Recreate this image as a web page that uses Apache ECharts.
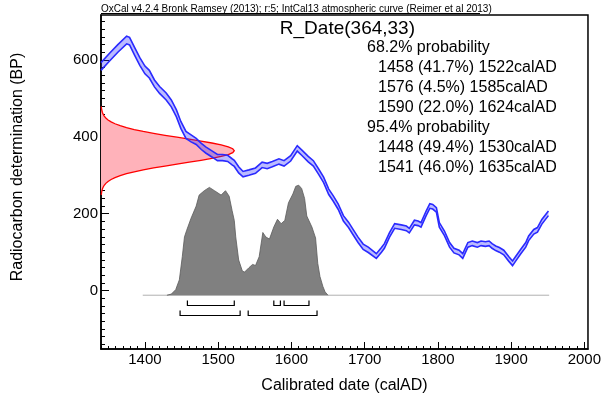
<!DOCTYPE html>
<html><head><meta charset="utf-8">
<script src="https://cdn.jsdelivr.net/npm/echarts@6/dist/echarts.min.js"></script>
<style>html,body{margin:0;padding:0;background:#fff}#c{width:604px;height:403px}</style>
</head><body><div id="c"></div>
<script>
// ---- data ----
const calYears = [1340,1352,1363,1375,1379,1386,1393,1400,1406,1413,1420,1429,1436,1443,1449,1456,1463,1470,1477,1483,1492,1499,1506,1513,1519,1522,1528,1534,1542,1551,1560,1567,1574,1583,1590,1599,1608,1614,1623,1630,1637,1644,1651,1657,1664,1671,1678,1684,1691,1698,1705,1716,1723,1727,1734,1741,1750,1757,1761,1768,1773,1777,1784,1789,1793,1798,1802,1809,1816,1822,1829,1834,1841,1847,1854,1859,1865,1870,1874,1879,1884,1890,1897,1902,1906,1913,1920,1924,1931,1936,1942,1951];
const calBP = [583,608,630,652,649,622,596,574,563,539,522,505,487,461,431,405,396,388,375,366,355,346,346,344,335,331,314,303,307,312,327,324,329,336,331,344,370,359,342,331,310,288,257,240,218,188,171,153,132,114,106,90,106,116,145,168,165,162,156,177,175,171,201,220,218,210,171,149,119,104,99,90,119,123,119,123,121,123,116,110,106,99,82,71,82,101,119,136,153,158,179,201];
const calErr = [10,10,10,10,10,10,10,10,10,9,9,9,9,9,9,9,9,8,8,8,8,8,8,8,8,8,8,7,7,7,7,7,7,7,7,7,7,7,7,7,7,7,7,7,7,7,7,7,7,7,7,6,6,6,6,6,6,6,6,6,6,6,6,6,6,6,6,6,6,6,6,6,6,6,6,6,6,6,6,6,6,6,6,6,6,6,6,6,6,6,6,6];

const grayYears = [1430,1436,1442,1447,1451,1454,1457,1463,1470,1474,1481,1488,1495,1504,1510,1515,1519,1522,1524,1528,1533,1536,1542,1547,1551,1556,1561,1565,1570,1576,1581,1586,1591,1596,1602,1606,1610,1614,1618,1621,1628,1633,1636,1639,1643,1646,1650];
const grayProb  = [0,0.01,0.05,0.14,0.35,0.53,0.59,0.70,0.81,0.91,0.95,0.98,0.95,0.91,0.95,0.90,0.77,0.68,0.53,0.32,0.22,0.21,0.25,0.28,0.27,0.35,0.57,0.53,0.51,0.62,0.69,0.65,0.68,0.84,0.92,0.99,1.00,0.97,0.88,0.72,0.62,0.52,0.29,0.17,0.08,0.03,0];

const redBP = [249,254,259,264,269,274,279,284,289,294,299,304,309,314,319,324,329,334,339,344,349,354,359,364,369,374,379,384,389,394,399,404,409,414,419,424,429,434,439,444,449,454,459,464,469,474,479];
const redWidth = [0.4,0.7,1.2,1.8,2.9,4.4,6.6,9.6,13.8,19.1,26.2,34.8,45.4,57.7,71.8,87.4,103.7,120.5,136.6,151.4,164.1,173.8,179.9,182,179.9,173.8,164.1,151.4,136.6,120.5,103.7,87.4,71.8,57.7,45.4,34.8,26.2,19.1,13.8,9.6,6.6,4.4,2.9,1.8,1.2,0.7,0.4];

const ranges68 = [[1458,1522],[1576,1585],[1590,1624]];
const ranges95 = [[1448,1530],[1541,1635]];
const baselineRange = [1397,1952];

const xTickLabels = [1400,1500,1600,1700,1800,1900,2000];
const yTickLabels = [0,200,400,600];
const xMinorTicks = [];
for (let v = 1340; v <= 2000; v += 10) xMinorTicks.push(v);
const yMinorTicks = [];
for (let v = -140; v <= 700; v += 20) yMinorTicks.push(v);

const titleText = 'OxCal v4.2.4 Bronk Ramsey (2013); r:5; IntCal13 atmospheric curve (Reimer et al 2013)';
const dateName = 'R_Date(364,33)';
const infoLines = ['68.2% probability','1458 (41.7%) 1522calAD','1576 (4.5%) 1585calAD','1590 (22.0%) 1624calAD','95.4% probability','1448 (49.4%) 1530calAD','1541 (46.0%) 1635calAD'];

// ---- chart ----
const X_MIN = 1340, X_MAX = 2005, Y_MIN = -152, Y_MAX = 717;
const FONT = 'Liberation Sans, Arial, sans-serif';
const chart = echarts.init(document.getElementById('c'), null, {renderer: 'canvas'});

function redRender(params, api) {
  const pts = [api.coord([X_MIN, redBP[0]])];
  redBP.forEach((b, i) => pts.push(api.coord([X_MIN + redWidth[i], b])));
  pts.push(api.coord([X_MIN, redBP[redBP.length - 1]]));
  const line = redBP.map((b, i) => api.coord([X_MIN + redWidth[i], b]));
  return {type: 'group', children: [
    {type: 'polygon', shape: {points: pts}, style: {fill: '#ffb2ba', stroke: null}},
    {type: 'polyline', shape: {points: line}, style: {stroke: '#ff0000', lineWidth: 1.3, fill: null}}
  ]};
}
function bandRender(params, api) {
  const up = calYears.map((x, i) => api.coord([x, calBP[i] + calErr[i]]));
  const lo = calYears.map((x, i) => api.coord([x, calBP[i] - calErr[i]]));
  return {type: 'group', children: [
    {type: 'polygon', shape: {points: up.concat(lo.slice().reverse())}, style: {fill: 'rgba(50,50,255,0.33)', stroke: null}},
    {type: 'polyline', shape: {points: up}, style: {stroke: '#2a2aff', lineWidth: 1.6, fill: null}},
    {type: 'polyline', shape: {points: lo}, style: {stroke: '#2a2aff', lineWidth: 1.6, fill: null}}
  ]};
}
function bracketRender(params, api) {
  const children = [];
  const rows = [[ranges68, 10], [ranges95, 20]];
  rows.forEach(([ranges, off]) => {
    ranges.forEach(r => {
      const a = api.coord([r[0], 0]);
      const b = api.coord([r[1], 0]);
      const y = Math.round(a[1] + off) + 0.5;
      children.push({type: 'polyline', shape: {points: [[a[0], y - 5], [a[0], y], [b[0], y], [b[0], y - 5]]},
        style: {stroke: '#000', lineWidth: 1.2, fill: null}});
    });
  });
  return {type: 'group', children};
}

const infoGraphics = infoLines.map((t, i) => ({
  type: 'text', silent: true,
  style: {text: t, x: /probability/.test(t) ? 367 : 378, y: 48 + 20 * i, textVerticalAlign: 'middle',
    font: '16px ' + FONT, fill: '#000'}
}));

const plain = v => String(v);

chart.setOption({
  animation: false,
  backgroundColor: '#fff',
  grid: {left: 101, top: 15, width: 491, height: 334, show: true, borderColor: '#000', borderWidth: 1.5, containLabel: false},
  xAxis: [
    {type: 'value', min: X_MIN, max: X_MAX, position: 'bottom',
      axisLine: {show: true, onZero: false, lineStyle: {color: '#000', width: 1.5}},
      axisTick: {show: true, inside: true, length: 7, customValues: xTickLabels, lineStyle: {color: '#000', width: 1}},
      axisLabel: {show: true, customValues: xTickLabels, formatter: plain, fontSize: 15, color: '#000', margin: 3, fontFamily: FONT},
      splitLine: {show: false},
      name: 'Calibrated date (calAD)', nameLocation: 'middle', nameGap: 29,
      nameTextStyle: {fontSize: 16, color: '#000', fontFamily: FONT}},
    {type: 'value', min: X_MIN, max: X_MAX, position: 'bottom',
      axisLine: {show: false, onZero: false}, axisLabel: {show: false}, splitLine: {show: false},
      axisTick: {show: true, inside: true, length: 3, customValues: xMinorTicks, lineStyle: {color: '#000', width: 1}}}
  ],
  yAxis: [
    {type: 'value', min: Y_MIN, max: Y_MAX, position: 'left',
      axisLine: {show: true, onZero: false, lineStyle: {color: '#000', width: 1.5}},
      axisTick: {show: true, inside: true, length: 8, customValues: yTickLabels, lineStyle: {color: '#000', width: 1}},
      axisLabel: {show: true, customValues: yTickLabels, formatter: plain, fontSize: 15, color: '#000', margin: 3, fontFamily: FONT},
      splitLine: {show: false}},
    {type: 'value', min: Y_MIN, max: Y_MAX, position: 'left',
      axisLine: {show: false, onZero: false}, axisLabel: {show: false}, splitLine: {show: false},
      axisTick: {show: true, inside: true, length: 4, customValues: yMinorTicks, lineStyle: {color: '#000', width: 1}}},
    {type: 'value', min: -0.489, max: 2.547, show: false, position: 'left', axisLine: {onZero: false}}
  ],
  series: [
    {type: 'custom', name: 'measurement', xAxisIndex: 0, yAxisIndex: 0, silent: true, z: 2,
      data: [[X_MIN, redBP[0]]], renderItem: redRender},
    {type: 'custom', name: 'calibration', xAxisIndex: 0, yAxisIndex: 0, silent: true, z: 3,
      data: [[calYears[0], calBP[0]]], renderItem: bandRender},
    {type: 'line', name: 'baseline', xAxisIndex: 0, yAxisIndex: 2, silent: true, z: 4, symbol: 'none',
      data: baselineRange.map(x => [x, 0]), lineStyle: {color: '#b0b0b0', width: 1}},
    {type: 'line', name: 'posterior', xAxisIndex: 0, yAxisIndex: 2, silent: true, z: 5, symbol: 'none',
      data: grayYears.map((x, i) => [x, grayProb[i]]),
      lineStyle: {color: '#5a5a5a', width: 0.8}, areaStyle: {color: '#808080', opacity: 1}},
    {type: 'custom', name: 'ranges', xAxisIndex: 0, yAxisIndex: 2, silent: true, z: 6,
      data: [[ranges68[0][0], 0]], renderItem: bracketRender}
  ],
  graphic: [
    {type: 'text', silent: true, style: {text: titleText, x: 101, y: 9, textVerticalAlign: 'middle', font: '10px ' + FONT, fill: '#000'}},
    {type: 'line', silent: true, shape: {x1: 101, y1: 13.5, x2: 480, y2: 13.5}, style: {stroke: '#000', lineWidth: 1}},
    {type: 'text', silent: true, style: {text: dateName, x: 415, y: 29, textAlign: 'right', textVerticalAlign: 'middle', font: '19px ' + FONT, fill: '#000'}},
    {type: 'text', silent: true, x: 18, y: 167, rotation: Math.PI / 2,
      style: {text: 'Radiocarbon determination (BP)', x: 0, y: 0, textAlign: 'center', textVerticalAlign: 'middle', font: '16px ' + FONT, fill: '#000'}}
  ].concat(infoGraphics)
});
</script>
</body></html>
